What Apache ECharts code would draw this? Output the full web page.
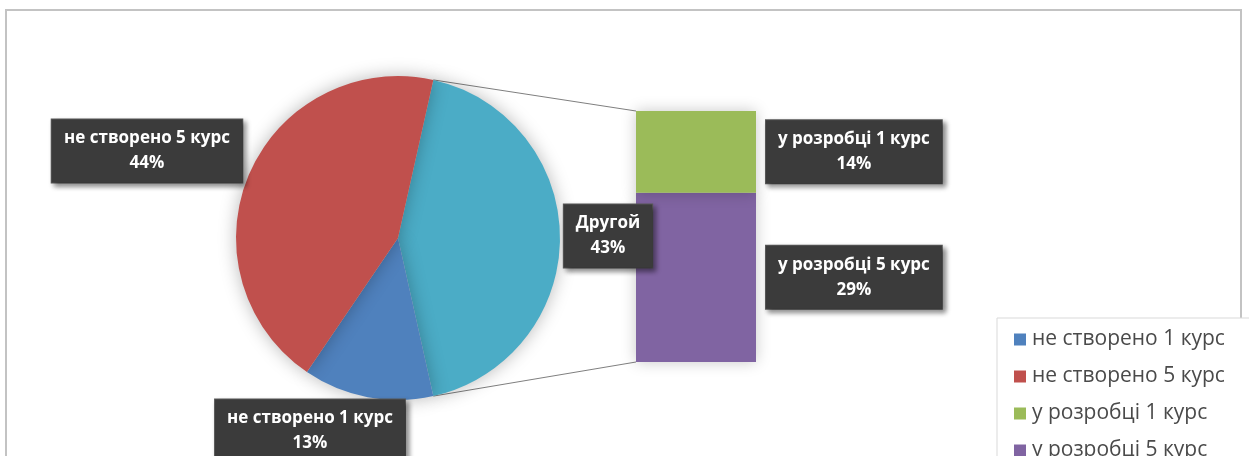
<!DOCTYPE html>
<html>
<head>
<meta charset="utf-8">
<script src="https://cdn.jsdelivr.net/npm/echarts@6/dist/echarts.min.js"></script>
<style>
  html, body { margin: 0; padding: 0; background: #ffffff; }
  #chart { width: 1249px; height: 456px; }
</style>
</head>
<body>
<div id="chart"></div>
<script>
// Course status shares (percent)
const categories = ['не створено 1 курс', 'не створено 5 курс', 'у розробці 1 курс', 'у розробці 5 курс'];
const values = [13, 44, 14, 29];
const otherName = 'Другой';
const colors = ['#4f81bd', '#c0504d', '#9bbb59', '#8064a2'];
const otherColor = '#4bacc6';

// Pie holds the first two categories plus the combined "other" slice;
// the stacked bar breaks that slice down into the last two categories.
const otherValue = values[2] + values[3];
const total = values.reduce((a, b) => a + b, 0);
const pieData = [
  { name: otherName, value: otherValue, itemStyle: { color: otherColor } },
  { name: categories[0], value: values[0], itemStyle: { color: colors[0] } },
  { name: categories[1], value: values[1], itemStyle: { color: colors[1] } }
];

const PIE_CENTER = [398, 238];
const PIE_R = 162;
// centre the "other" slice on the 3 o'clock direction
const startAngle = (otherValue / total) * 360 / 2;
const BAR_GRID = { left: 636, top: 111, width: 120, height: 251 };

const boxLabel = {
  color: '#ffffff',
  fontFamily: 'Open Sans',
  fontWeight: 'bold',
  fontSize: 17,
  lineHeight: 25,
  align: 'center',
  overflow: 'none',
  backgroundColor: '#3b3b3b',
  borderColor: '#5a5a5a',
  borderWidth: 1,
  padding: [7, 12, 6, 12],
  shadowColor: 'rgba(0,0,0,0.45)',
  shadowBlur: 5,
  shadowOffsetX: 3,
  shadowOffsetY: 3
};

// label anchor points for the pie slices
const pieLabelPos = {
  [otherName]: [608, 236],
  [categories[0]]: [310, 431],
  [categories[1]]: [147, 151]
};

// bar labels sit just right of the bar, vertically centred on their segment
function barLabelLayout(p) {
  const cx = p.rect.x + p.rect.width + 9 + p.labelRect.width / 2;
  const cy = p.rect.y + p.rect.height / 2;
  return { x: cx, y: cy, align: 'center', verticalAlign: 'middle' };
}

const chart = echarts.init(document.getElementById('chart'), null, { renderer: 'canvas' });

const option = {
  backgroundColor: '#ffffff',
  animation: false,
  legend: {
    data: categories,
    orient: 'vertical',
    left: 997,
    top: 318,
    height: 220,
    padding: [11, 40, 30, 17],
    icon: 'rect',
    itemWidth: 12,
    itemHeight: 12,
    itemGap: 16,
    borderColor: '#d9d9d9',
    borderWidth: 1,
    backgroundColor: '#ffffff',
    selectedMode: false,
    textStyle: { fontFamily: 'Open Sans', fontSize: 21, color: '#4a4a4a', padding: [0, 0, 0, 1] }
  },
  grid: { left: BAR_GRID.left, top: BAR_GRID.top, width: BAR_GRID.width, height: BAR_GRID.height },
  xAxis: { type: 'category', data: [otherName], show: false },
  yAxis: { type: 'value', min: 0, max: otherValue, show: false },
  series: [
    {
      type: 'pie',
      center: PIE_CENTER,
      radius: PIE_R,
      startAngle: startAngle,
      clockwise: true,
      silent: true,
      data: pieData,
      itemStyle: { shadowBlur: 18, shadowColor: 'rgba(0,0,0,0.28)' },
      label: Object.assign({ show: true, position: 'outside', formatter: '{b}\n{d}%' }, boxLabel),
      labelLine: { show: false },
      labelLayout: function (p) {
        const pos = pieLabelPos[pieData[p.dataIndex].name];
        return pos ? { x: pos[0], y: pos[1], align: 'center', verticalAlign: 'middle' } : {};
      }
    },
    {
      type: 'bar',
      name: categories[3],
      stack: 'other',
      barWidth: '100%',
      silent: true,
      data: [values[3]],
      itemStyle: { color: colors[3], shadowBlur: 14, shadowColor: 'rgba(0,0,0,0.22)' },
      label: Object.assign({ show: true, position: 'inside',
        formatter: p => p.seriesName + '\n' + p.value + '%' }, boxLabel),
      labelLayout: barLabelLayout
    },
    {
      type: 'bar',
      name: categories[2],
      stack: 'other',
      barWidth: '100%',
      silent: true,
      data: [values[2]],
      itemStyle: { color: colors[2], shadowBlur: 14, shadowColor: 'rgba(0,0,0,0.22)' },
      label: Object.assign({ show: true, position: 'inside',
        formatter: p => p.seriesName + '\n' + p.value + '%' }, boxLabel),
      labelLayout: barLabelLayout
    }
  ]
};
chart.setOption(option);

// Connector lines from the edges of the "other" slice to the bar corners
function edgePoint(angleDeg) {
  const a = angleDeg * Math.PI / 180;
  return [PIE_CENTER[0] + PIE_R * Math.cos(a), PIE_CENTER[1] - PIE_R * Math.sin(a)];
}
const sweep = (otherValue / total) * 360;
const topEdge = edgePoint(startAngle);
const bottomEdge = edgePoint(startAngle - sweep);
const barTopLeft = chart.convertToPixel({ gridIndex: 0 }, [0, otherValue]);
const barBottomLeft = chart.convertToPixel({ gridIndex: 0 }, [0, 0]);
const barLeft = BAR_GRID.left;

chart.setOption({
  graphic: [
    {
      type: 'rect', silent: true, z: -1,
      shape: { x: 6, y: 10, width: 1235, height: 470 },
      style: { fill: 'none', stroke: '#c3c3c3', lineWidth: 2 }
    },
    {
      type: 'line', silent: true, z: 1,
      shape: { x1: topEdge[0], y1: topEdge[1], x2: barLeft, y2: barTopLeft[1] },
      style: { stroke: '#7f7f7f', lineWidth: 1 }
    },
    {
      type: 'line', silent: true, z: 1,
      shape: { x1: bottomEdge[0], y1: bottomEdge[1], x2: barLeft, y2: barBottomLeft[1] },
      style: { stroke: '#7f7f7f', lineWidth: 1 }
    }
  ]
});
</script>
</body>
</html>
